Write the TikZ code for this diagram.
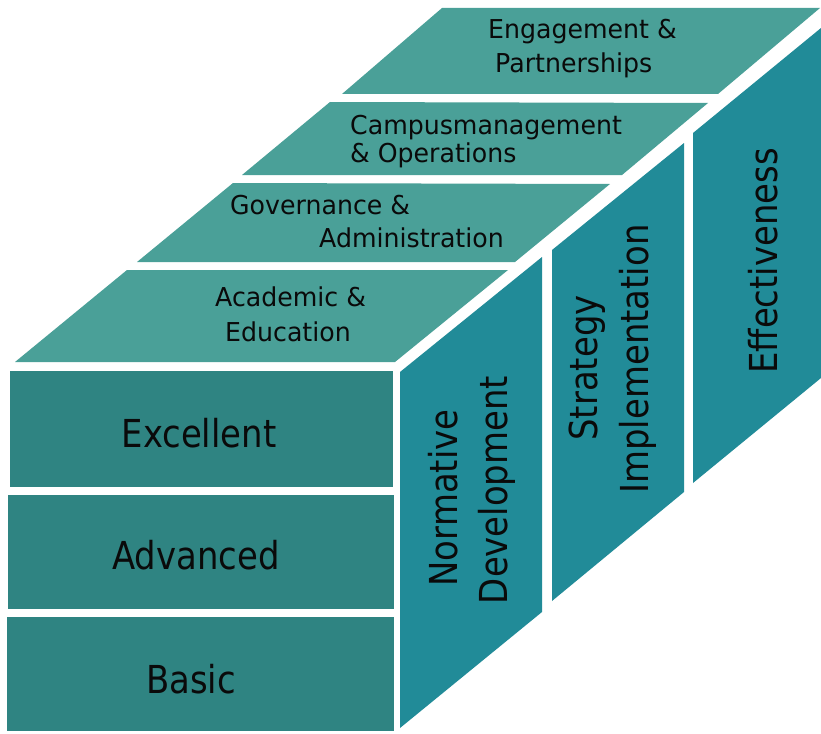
\documentclass[tikz,border=0pt]{standalone}
\usepackage{fontspec}
\setmainfont{DejaVu Sans}
\newfontfamily\condfont[FakeStretch=0.88]{DejaVu Sans}
\newfontfamily\topfont[FakeStretch=0.97]{DejaVu Sans}
\definecolor{frontc}{HTML}{2F8482}
\definecolor{topc}{HTML}{4AA098}
\definecolor{sidec}{HTML}{218B98}
\definecolor{txtc}{HTML}{0A0A0A}
\tikzset{
  frontface/.style={fill=frontc},
  topface/.style={fill=topc},
  sideface/.style={fill=sidec},
  toplabel/.style={inner sep=0pt, anchor=base west, text=txtc, font=\topfont\fontsize{26}{30}\selectfont},
  frontlabel/.style={inner sep=0pt, anchor=base, text=txtc, font=\condfont\fontsize{38.5}{44}\selectfont},
  sidelabel/.style={inner sep=0pt, anchor=base, rotate=90, text=txtc, font=\condfont\fontsize{38.5}{44}\selectfont}
}
\begin{document}
\begin{tikzpicture}[x=1pt,y=-1pt]
\useasboundingbox (0,0) rectangle (821,733);
\fill[white] (0,0) rectangle (821,733);
% front face
\fill[frontface] (10,371) rectangle (393,487);
\fill[frontface] (8,495) rectangle (394,609);
\fill[frontface] (7,617) rectangle (394,731);
% top face strips
\fill[topface] (442,8) -- (820,8) -- (718,94) -- (342,94) -- cycle;
\fill[topface] (330,102) -- (708,103) -- (622,175) -- (242,175) -- cycle;
\fill[topface] (233,183) -- (610,184) -- (515,262) -- (137,262) -- cycle;
\fill[topface] (127,270) -- (508,270) -- (395,362) -- (15,362) -- cycle;
% side panels
\fill[sideface] (400,372) -- (542,257) -- (542,612) -- (400,728) -- cycle;
\fill[sideface] (552,250) -- (684,143) -- (684,492) -- (552,601) -- cycle;
\fill[sideface] (693,133) -- (821,28) -- (821,378) -- (693,483) -- cycle;
% top labels
\node[toplabel] (eng1) at (488,39) {Engagement \&};
\node[toplabel] (eng2) at (495,73) {Partnerships};
\node[toplabel] (cam1) at (350,134) {Campusmanagement};
\node[toplabel] (cam2) at (350,162) {\& Operations};
\node[toplabel] (gov1) at (230,214) {Governance \&};
\node[toplabel] (gov2) at (319,247) {Administration};
\node[toplabel] (aca1) at (215,306) {Academic \&};
\node[toplabel] (aca2) at (225,341) {Education};
% front labels
\node[frontlabel] (exc) at (199,447) {Excellent};
\node[frontlabel] (adv) at (196,569) {Advanced};
\node[frontlabel] (bas) at (191,693) {Basic};
% side labels
\node[sidelabel] (nor1) at (457,498) {Normative};
\node[sidelabel] (nor2) at (507,490) {Development};
\node[sidelabel] (str1) at (597,368) {Strategy};
\node[sidelabel] (str2) at (648,359) {Implementation};
\node[sidelabel] (eff) at (777,261) {Effectiveness};
\end{tikzpicture}
\end{document}
